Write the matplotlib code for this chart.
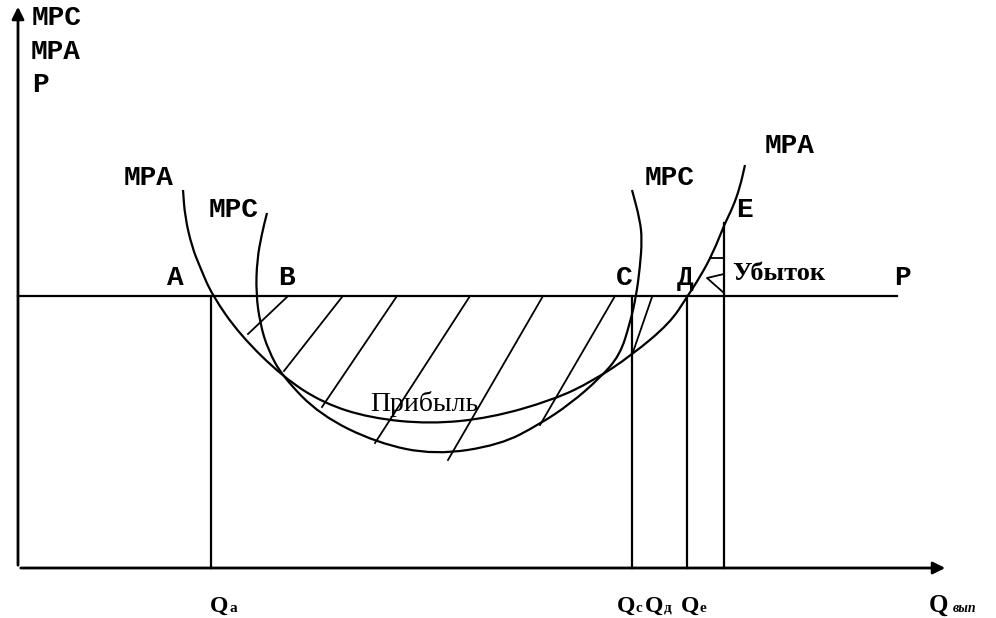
import matplotlib
matplotlib.use("Agg")
import matplotlib.pyplot as plt
from matplotlib.path import Path
from matplotlib.patches import PathPatch

# curve points (pixel coords, y down)
mpa_x = [183, 185, 192, 200, 212, 240, 283, 323, 370, 430, 490, 553, 593, 632, 670, 687, 700, 713, 725, 733, 740, 745]
mpa_y = [190, 217, 247, 267, 295, 335, 377, 403, 418, 424, 418, 400, 381, 355, 323, 297, 277, 253, 223, 207, 187, 165]

mpc_x = [267, 262, 257, 256, 260, 268, 283, 320, 377, 435, 500, 540, 570, 600, 620, 630, 636, 640, 642, 640, 632]
mpc_y = [213, 233, 260, 293, 323, 350, 377, 415, 443, 455, 445, 424, 404, 378, 355, 323, 297, 267, 240, 220, 190]

# hatching of profit area
hatch = [
    ((287, 297), (248, 334)),
    ((342, 297), (284, 371)),
    ((397, 296), (322, 407)),
    ((470, 296), (375, 443)),
    ((543, 296), (448, 460)),
    ((615, 296), (540, 425)),
    ((652, 297), (632, 355)),
]
loss_x1 = [710, 724]
loss_y1 = [258, 258]
loss_x2 = [724, 707, 724]
loss_y2 = [274, 278, 293]

price_y = 296
axis_x0, axis_y0 = 18, 568
q_pos = {"a": 211, "c": 632, "д": 687, "e": 724}
q_top = {"a": 296, "c": 296, "д": 296, "e": 223}

mono = "Liberation Mono"
serif = "Liberation Serif"
lw = 1.6


def smooth_path(xs, ys):
    # quadratic bezier through midpoints, control points = read points
    pts = list(zip(xs, ys))
    verts = [pts[0]]
    codes = [Path.MOVETO]
    mid = ((pts[0][0] + pts[1][0]) / 2, (pts[0][1] + pts[1][1]) / 2)
    verts.append(mid)
    codes.append(Path.LINETO)
    for i in range(1, len(pts) - 1):
        nxt = ((pts[i][0] + pts[i + 1][0]) / 2, (pts[i][1] + pts[i + 1][1]) / 2)
        verts += [pts[i], nxt]
        codes += [Path.CURVE3, Path.CURVE3]
    verts.append(pts[-1])
    codes.append(Path.LINETO)
    return Path(verts, codes)


fig = plt.figure(figsize=(9.96, 6.18), dpi=100)
ax = fig.add_axes([0, 0, 1, 1])
ax.set_xlim(0, 996)
ax.set_ylim(618, 0)
ax.axis("off")

# axes with arrows
ax.annotate("", xy=(axis_x0, 4), xytext=(axis_x0, axis_y0),
            arrowprops=dict(arrowstyle="-|>", lw=2, color="k", mutation_scale=18))
ax.annotate("", xy=(948, axis_y0), xytext=(axis_x0, axis_y0),
            arrowprops=dict(arrowstyle="-|>", lw=2, color="k", mutation_scale=18))

# price line
ax.plot([axis_x0, 897], [price_y, price_y], color="k", lw=lw)

# curves
for xs, ys in [(mpa_x, mpa_y), (mpc_x, mpc_y)]:
    ax.add_patch(PathPatch(smooth_path(xs, ys), fill=False, lw=lw, color="k"))

# verticals
for k in q_pos:
    ax.plot([q_pos[k], q_pos[k]], [q_top[k], axis_y0], color="k", lw=lw)

# hatching
for (x1, y1), (x2, y2) in hatch:
    ax.plot([x1, x2], [y1, y2], color="k", lw=1.3)
ax.plot(loss_x1, loss_y1, color="k", lw=1.3)
ax.plot(loss_x2, loss_y2, color="k", lw=1.3)

# mono labels
mono_labels = [
    ("MPC", 32, 18), ("MPA", 31, 52), ("P", 32, 85),
    ("MPA", 124, 178), ("MPC", 209, 210),
    ("A", 167, 278), ("B", 278, 278), ("C", 616, 278), ("Д", 677, 278),
    ("E", 736, 210), ("P", 894, 278),
    ("MPC", 645, 178), ("MPA", 765, 146),
]
for s, x, y in mono_labels:
    ax.text(x, y, s, family=mono, fontsize=20, fontweight="bold", ha="left", va="center")

ax.text(732, 274, "Убыток", family=serif, fontsize=19, fontweight="bold", ha="left", va="center")
ax.text(370, 404, "Прибыль", family=serif, fontsize=20, ha="left", va="center")

# Q labels
q_labels = [("a", 210), ("c", 617), ("д", 645), ("e", 681)]
for sub, x in q_labels:
    ax.text(x, 612, "Q", family=serif, fontsize=17, fontweight="bold", ha="left", va="baseline")
    ax.text(x + 19, 612, sub, family=serif, fontsize=11, fontweight="bold", ha="left", va="baseline")
ax.text(929, 612, "Q", family=serif, fontsize=18, fontweight="bold", ha="left", va="baseline")
ax.text(953, 612, "вып", family=serif, fontsize=10, fontweight="bold", style="italic",
        ha="left", va="baseline")

fig.savefig("out.png", dpi=100)
